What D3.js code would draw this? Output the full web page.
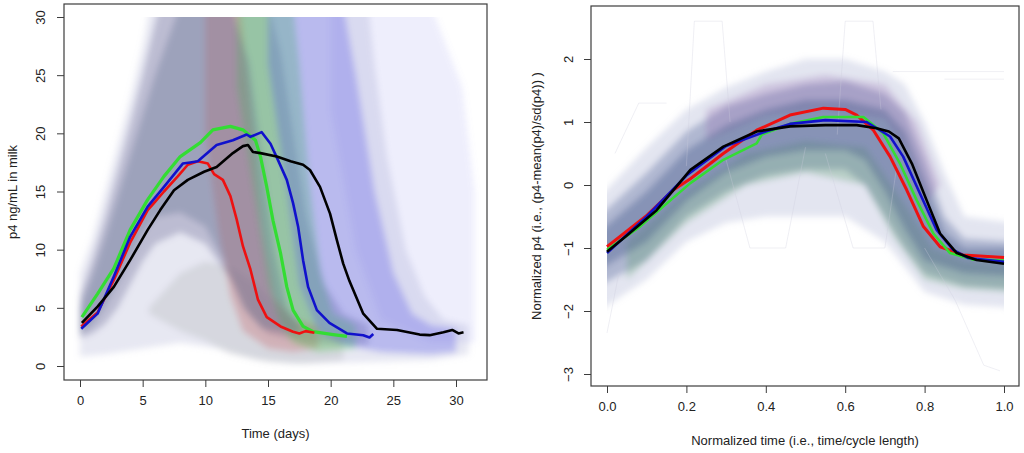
<!DOCTYPE html>
<html><head><meta charset="utf-8">
<script src="https://cdn.jsdelivr.net/npm/d3@7"></script>
<style>
html,body{margin:0;padding:0;background:#fff;}
svg{display:block;font-family:"Liberation Sans",Arial,sans-serif;}
.tick text{font-size:13px;fill:#222;}
</style></head>
<body><svg id="c" width="1024" height="453"></svg>
<script>
// ---------- LEFT PANEL DATA (p4 ng/mL vs days) ----------
const leftXTicks = [0,5,10,15,20,25,30];
const leftYTicks = [0,5,10,15,20,25,30];
const redDays = [0.1,1.4,2.7,4.0,5.4,5.9,6.7,7.8,8.6,9.4,10.2,10.7,11.4,12.0,12.5,13.0,13.6,14.2,14.9,16.0,17.0,17.5,18.0,18.7];
const redP4   = [3.4,4.6,7.4,10.6,13.4,14.0,15.0,16.3,17.3,17.6,17.4,16.5,16.0,14.6,12.6,10.3,8.3,5.7,4.2,3.4,2.95,2.8,3.0,2.85];
const greenDays = [0.15,1.4,2.7,4.0,5.4,6.7,8.0,9.6,10.6,12.0,13.0,14.0,14.4,14.9,15.4,16.0,16.5,17.0,17.8,18.6,20.2,21.3];
const greenP4   = [4.2,6.2,8.4,11.7,14.3,16.3,18.0,19.2,20.3,20.6,20.3,19.4,18.0,15.4,12.5,9.7,6.8,4.8,3.4,2.95,2.7,2.55];
const blueDays = [0.1,1.4,2.7,4.0,5.4,6.7,8.2,8.8,9.4,10.9,12.2,13.3,13.6,14.5,15.2,15.8,16.5,17.0,17.4,17.8,18.2,18.9,19.9,21.3,22.6,23.1,23.4];
const blueP4   = [3.2,4.5,7.7,11.1,13.7,15.4,17.4,17.5,17.6,19.0,19.4,19.9,19.7,20.1,19.1,17.7,16.0,14.0,12.0,9.1,6.8,4.8,3.7,2.8,2.65,2.45,2.75];
const blackDays = [0.15,1.4,2.7,4.0,5.4,6.4,7.5,8.6,9.9,10.9,12.2,13.0,13.4,13.8,14.4,15.7,16.8,17.8,18.35,19.15,19.95,20.5,21.0,21.5,22.6,23.7,25.3,27.1,27.9,29.0,29.7,30.2,30.6];
const blackP4   = [3.7,5.1,6.8,9.1,11.7,13.4,15.1,16.0,16.7,17.1,18.3,18.9,19.0,18.4,18.3,18.0,17.6,17.3,16.85,15.4,13.1,10.8,8.8,7.3,4.5,3.2,3.1,2.7,2.65,2.9,3.1,2.8,2.9];

// background cloud envelopes: [day, p4]
const cloudOuterUpper = [[0,8],[1,11],[2,15],[3,19],[4,23],[5,27.5],[5.6,31],[23,31],[23.5,26],[24.5,18],[26,10],[27.5,6],[29,4],[31,3.5]];
const cloudOuterLower = [[0,0.8],[2,1],[5,1.5],[8,2],[11,1.5],[14,0.6],[17,0.2],[22,0.3],[28,0.5],[31,1]];
const cloudCoreUpper  = [[0,6],[1,9.2],[2,12.8],[3,16.8],[4,20.8],[5,25],[6,29.5],[6.4,31],[15,31],[16,27],[17,20],[18,13],[19.5,7],[21,4.5],[23,3.5]];
const cloudCoreLower  = [[0,2.4],[1,2.8],[2,3.6],[3,5],[4,7],[5,9],[6,10.5],[8,11.5],[10,10.5],[12,7.5],[13.5,4.5],[15,2.8],[18,2],[23,1.8]];
const cloudDenseUpper = [[0,5],[1,7.8],[2,11],[3,14.5],[4,18],[5,21.5],[6,25],[7,28],[8,31],[12,31],[13.5,26],[14.5,18],[15.5,10],[16.5,5],[17.5,3.5]];
const cloudDenseLower = [[0,2.8],[1,3.6],[2,5.2],[3,7.2],[4,9.3],[5,11.3],[6,12.8],[8,13.2],[10,12],[11.5,9],[13,5],[14.5,3.2],[17.5,2.8]];
const cloudRedUpper   = [[10,31],[12.8,31],[13.6,22],[14.5,12],[15.5,6],[17,4],[19,3.5]];
const cloudRedLower   = [[10,20],[11,12],[12,6],[13,3],[15,1.5],[17,1.2],[19,1.5]];
const cloudGreenUpper = [[12.5,31],[17,31],[17.5,26],[18.3,16],[19.2,8],[20.2,4.5],[22,3.5]];
const cloudGreenLower = [[12.5,24],[14,14],[15,7],[16,3.5],[17,2],[19,1.2],[22,1.5]];
const cloudBlueUpper  = [[15,31],[21,31],[22,25],[23.5,15],[25,8],[26.5,4.5],[28,3.5],[30,3.2]];
const cloudBlueLower  = [[15,26],[16.5,15],[17.5,7],[19,3],[21,1.8],[24,1.2],[28,1],[30,1.2]];
const cloudFaintUpper = [[20,31],[28,31],[30.5,24],[31.5,15],[31.5,5]];
const cloudFaintLower = [[20,22],[22,10],[24,4],[28,2],[31.5,2]];
const cloudGrayUpper  = [[5.5,5],[8,8],[10,9],[12,8.5],[14,7],[16,5],[18,3.5],[21,2.5]];
const cloudGrayLower  = [[5.5,4.5],[8,3],[10,2.2],[12,1],[15,0.3],[18,0.2],[21,0.5]];

// ---------- RIGHT PANEL DATA (normalized p4 vs normalized time) ----------
const rightXTicks = [0,0.2,0.4,0.6,0.8,1.0];
const rightYTicks = [-3,-2,-1,0,1,2];
const nRedT   = [0,0.097,0.167,0.21,0.293,0.377,0.461,0.545,0.6,0.629,0.671,0.713,0.755,0.797,0.839,0.897,1.0];
const nRedP4  = [-0.98,-0.5,-0.08,0.1,0.5,0.87,1.11,1.22,1.2,1.11,0.87,0.45,-0.08,-0.66,-0.98,-1.11,-1.15];
const nGreenT  = [0,0.083,0.21,0.293,0.377,0.39,0.461,0.545,0.646,0.696,0.738,0.78,0.822,0.864,0.92,1.0];
const nGreenP4 = [-1.03,-0.66,0.03,0.4,0.66,0.8,0.97,1.08,1.08,0.82,0.34,-0.24,-0.77,-1.08,-1.18,-1.2];
const nBlueT  = [0,0.1,0.2,0.3,0.4,0.461,0.55,0.654,0.713,0.746,0.788,0.83,0.872,0.91,1.0];
const nBlueP4 = [-1.08,-0.5,0.15,0.62,0.85,0.97,1.03,1.0,0.77,0.45,-0.13,-0.71,-1.03,-1.16,-1.22];
const nBlackT  = [0,0.05,0.125,0.21,0.293,0.377,0.461,0.55,0.629,0.679,0.71,0.735,0.768,0.805,0.839,0.881,0.931,1.0];
const nBlackP4 = [-1.06,-0.8,-0.4,0.24,0.61,0.85,0.93,0.95,0.95,0.9,0.85,0.74,0.34,-0.24,-0.77,-1.08,-1.19,-1.25];

const nOuterUpper = [[-0.02,-0.2],[0.1,0.6],[0.2,1.2],[0.3,1.55],[0.4,1.8],[0.5,2.0],[0.6,2.0],[0.7,1.8],[0.75,1.6],[0.8,1.0],[0.85,0.2],[0.9,-0.5],[1.02,-0.6]];
const nOuterLower = [[-0.02,-2.0],[0.1,-1.5],[0.2,-0.9],[0.3,-0.6],[0.4,-0.5],[0.5,-0.5],[0.6,-0.5],[0.7,-0.9],[0.75,-1.3],[0.8,-1.7],[0.9,-1.9],[1.02,-1.95]];
const nMidUpper   = [[-0.02,-0.5],[0.1,0.2],[0.2,0.85],[0.3,1.25],[0.4,1.45],[0.5,1.6],[0.6,1.65],[0.7,1.45],[0.75,1.15],[0.8,0.4],[0.85,-0.5],[0.9,-0.85],[1.02,-0.9]];
const nMidLower   = [[-0.02,-1.6],[0.1,-1.2],[0.2,-0.5],[0.3,-0.1],[0.4,0.15],[0.5,0.25],[0.6,0.25],[0.65,0.0],[0.7,-0.5],[0.75,-1.0],[0.8,-1.4],[0.9,-1.6],[1.02,-1.65]];
const nInnerUpper = [[-0.02,-0.75],[0.1,-0.1],[0.2,0.55],[0.3,0.95],[0.4,1.2],[0.5,1.35],[0.6,1.35],[0.7,1.2],[0.75,0.85],[0.8,0.05],[0.85,-0.75],[0.9,-1.0],[1.02,-1.0]];
const nInnerLower = [[-0.02,-1.35],[0.1,-0.9],[0.2,-0.25],[0.3,0.2],[0.4,0.45],[0.5,0.55],[0.6,0.55],[0.65,0.4],[0.7,-0.1],[0.75,-0.7],[0.8,-1.2],[0.9,-1.4],[1.02,-1.45]];
const nGreenTintUpper = [[0.05,-0.9],[0.2,-0.1],[0.35,0.5],[0.5,0.7],[0.65,0.6],[0.75,-0.3],[0.82,-1.0],[0.9,-1.2],[1.02,-1.25]];
const nGreenTintLower = [[0.05,-1.5],[0.2,-0.6],[0.35,0.0],[0.5,0.2],[0.65,0.0],[0.72,-0.8],[0.8,-1.5],[0.9,-1.65],[1.02,-1.7]];
const nPurpleTintUpper = [[0.25,1.2],[0.4,1.6],[0.55,1.75],[0.7,1.6],[0.78,1.0],[0.84,0.0]];
const nPurpleTintLower = [[0.25,0.7],[0.4,1.1],[0.55,1.2],[0.7,1.05],[0.76,0.5],[0.8,-0.3]];
const nOutliers = [
  [[0.2,0.3],[0.22,2.6],[0.29,2.6],[0.31,1.0]],
  [[0.58,0.8],[0.6,2.6],[0.67,2.6],[0.69,1.2]],
  [[0.8,-1.0],[0.877,-1.83],[0.949,-2.86],[0.99,-2.95]],
  [[0.72,1.8],[1.0,1.8]],
  [[0.85,1.68],[1.0,1.68]],
  [[0.3,0.4],[0.36,-1.0],[0.45,-1.0],[0.5,0.6]],
  [[0.55,0.5],[0.62,-1.0],[0.7,-1.0],[0.73,0.3]],
  [[0.0,-2.35],[0.03,-1.4]],
  [[0.02,0.5],[0.08,1.3],[0.15,1.3]]
];

// ---------- DRAWING ----------
const svg = d3.select("#c");
const defs = svg.append("defs");
defs.append("filter").attr("id","soft").attr("x","-20%").attr("y","-20%").attr("width","140%").attr("height","140%")
  .append("feGaussianBlur").attr("stdDeviation",3);
const zip = (a,b)=>a.map((v,i)=>[v,b[i]]);

function panel(cfg){
  const g = svg.append("g");
  const x = d3.scaleLinear().domain(cfg.xd).range(cfg.xr);
  const y = d3.scaleLinear().domain(cfg.yd).range(cfg.yr);
  const id = "clip"+cfg.name;
  const cy = cfg.cloudTop!==undefined ? y(cfg.cloudTop) : cfg.box[1];
  const cx0 = cfg.cloudX ? x(cfg.cloudX[0]) : cfg.box[0];
  const cx1 = cfg.cloudX ? x(cfg.cloudX[1]) : cfg.box[2];
  defs.append("clipPath").attr("id",id).append("rect")
    .attr("x",cx0).attr("y",cy).attr("width",cx1-cx0).attr("height",cfg.box[3]-cy);
  defs.append("clipPath").attr("id",id+"f").append("rect")
    .attr("x",cfg.box[0]).attr("y",cfg.box[1]).attr("width",cfg.box[2]-cfg.box[0]).attr("height",cfg.box[3]-cfg.box[1]);
  const cloud = g.append("g").attr("clip-path",`url(#${id})`).append("g").attr("filter","url(#soft)");
  const plot = g.append("g").attr("clip-path",`url(#${id}f)`);
  const line = d3.line().x(d=>x(d[0])).y(d=>y(d[1]));
  cfg.bands.forEach(b=>{
    const poly = b.upper.concat(b.lower.slice().reverse());
    cloud.append("path").attr("d", line(poly)+"Z")
      .attr("fill", b.color).attr("fill-opacity", b.op);
  });
  (cfg.faint||[]).forEach(p=>{
    plot.append("path").attr("d", line(p)).attr("fill","none")
      .attr("stroke","#ccccdc").attr("stroke-width",0.7).attr("stroke-opacity",0.45);
  });
  cfg.series.forEach(s=>{
    plot.append("path").attr("d", line(zip(s.t,s.v))).attr("fill","none")
      .attr("stroke", s.color).attr("stroke-width", s.w).attr("stroke-linejoin","round");
  });
  g.append("rect").attr("x",cfg.box[0]).attr("y",cfg.box[1])
    .attr("width",cfg.box[2]-cfg.box[0]).attr("height",cfg.box[3]-cfg.box[1])
    .attr("fill","none").attr("stroke","#3c3c3c").attr("stroke-width",1.2);
  const ax = g.append("g").attr("transform",`translate(0,${cfg.box[3]})`)
    .call(d3.axisBottom(x).tickValues(cfg.xt).tickSize(7).tickPadding(9).tickFormat(cfg.xf));
  ax.select(".domain").remove();
  ax.selectAll(".tick line").attr("stroke","#3c3c3c");
  ax.selectAll(".tick text").attr("dy","0.71em");
  const ay = g.append("g").attr("transform",`translate(${cfg.box[0]},0)`)
    .call(d3.axisLeft(y).tickValues(cfg.yt).tickSize(7).tickFormat(d3.format("d")));
  ay.select(".domain").remove();
  ay.selectAll(".tick line").attr("stroke","#3c3c3c");
  ay.selectAll(".tick text").attr("x",null).attr("dy",null)
    .attr("text-anchor","middle").attr("transform",`translate(${-cfg.ylOff},0) rotate(-90)`);
  g.append("text").attr("x",(cfg.box[0]+cfg.box[2])/2).attr("y",cfg.xTitleY)
    .attr("text-anchor","middle").attr("font-size",13).attr("fill","#222").text(cfg.xTitle);
  g.append("text").attr("transform",`translate(${cfg.yTitleX},${(cfg.box[1]+cfg.box[3])/2}) rotate(-90)`)
    .attr("text-anchor","middle").attr("font-size",13).attr("fill","#222").text(cfg.yTitle);
}

panel({
  name:"L", box:[64,4,487,380], cloudTop:30,
  xd:[0,30], xr:[80,456], yd:[0,30], yr:[366,17],
  xt:leftXTicks, yt:leftYTicks, xf:d3.format("d"), ylOff:19,
  xTitle:"Time (days)", xTitleY:438, yTitle:"p4 ng/mL in milk", yTitleX:17,
  bands:[
    {upper:cloudOuterUpper, lower:cloudOuterLower, color:"#a8accf", op:0.28},
    {upper:cloudFaintUpper, lower:cloudFaintLower, color:"#8a8ae8", op:0.14},
    {upper:cloudCoreUpper, lower:cloudCoreLower, color:"#7a7aa2", op:0.4},
    {upper:cloudRedUpper, lower:cloudRedLower, color:"#d86060", op:0.32},
    {upper:cloudGreenUpper, lower:cloudGreenLower, color:"#50d050", op:0.35},
    {upper:cloudBlueUpper, lower:cloudBlueLower, color:"#5a5ae6", op:0.32},
    {upper:cloudGrayUpper, lower:cloudGrayLower, color:"#707070", op:0.14},
    {upper:cloudDenseUpper, lower:cloudDenseLower, color:"#60708e", op:0.35}
  ],
  series:[
    {t:greenDays, v:greenP4, color:"#33dd33", w:3.2},
    {t:redDays, v:redP4, color:"#ee1111", w:2.6},
    {t:blueDays, v:blueP4, color:"#1111cc", w:2.6},
    {t:blackDays, v:blackP4, color:"#000000", w:2.6}
  ]
});

panel({
  name:"R", box:[591,6,1019,386], cloudX:[0,1],
  xd:[0,1], xr:[607,1004], yd:[-3,2], yr:[374,59],
  xt:rightXTicks, yt:rightYTicks, xf:d3.format(".1f"), ylOff:18,
  xTitle:"Normalized time (i.e., time/cycle length)", xTitleY:445,
  yTitle:"Normalized p4 (i.e., (p4-mean(p4)/sd(p4)) )", yTitleX:541,
  faint:nOutliers,
  bands:[
    {upper:nOuterUpper, lower:nOuterLower, color:"#a8aed0", op:0.32},
    {upper:nMidUpper, lower:nMidLower, color:"#6a78a8", op:0.42},
    {upper:nPurpleTintUpper, lower:nPurpleTintLower, color:"#8a60a8", op:0.25},
    {upper:nGreenTintUpper, lower:nGreenTintLower, color:"#5a9a6a", op:0.3},
    {upper:nInnerUpper, lower:nInnerLower, color:"#44598a", op:0.38}
  ],
  series:[
    {t:nRedT, v:nRedP4, color:"#ee1111", w:3},
    {t:nGreenT, v:nGreenP4, color:"#33dd33", w:2.6},
    {t:nBlueT, v:nBlueP4, color:"#1111cc", w:2.6},
    {t:nBlackT, v:nBlackP4, color:"#000000", w:2.6}
  ]
});
</script></body></html>
